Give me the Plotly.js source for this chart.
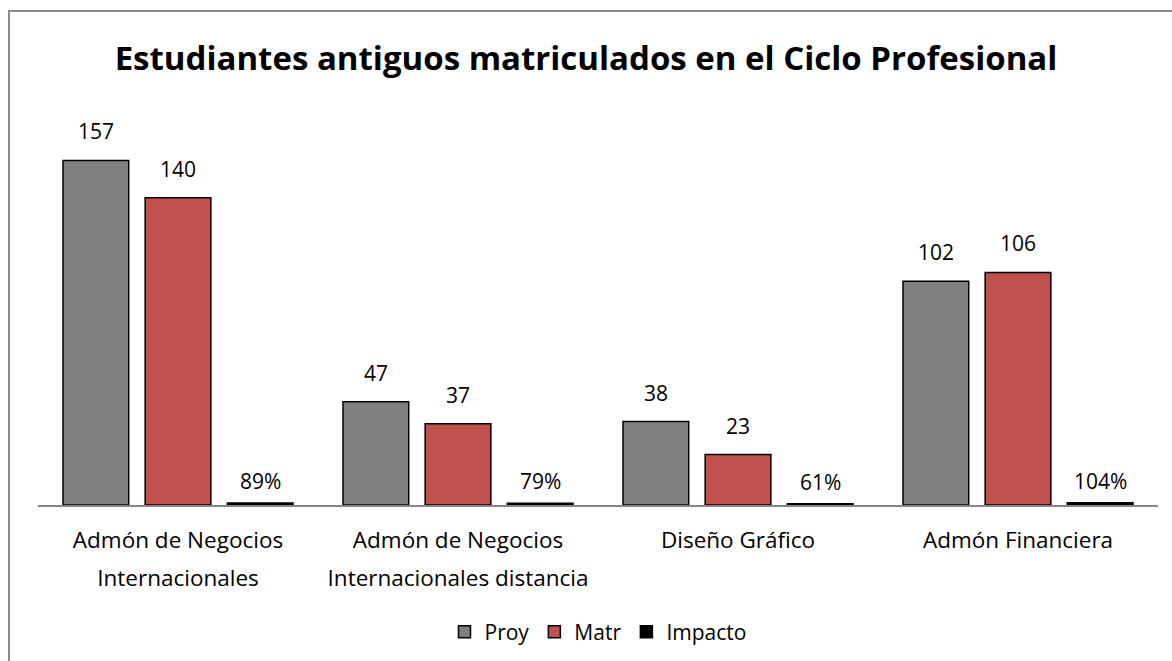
<!DOCTYPE html>
<html><head><meta charset="utf-8">
<script src="https://cdn.plot.ly/plotly-3.0.1.min.js"></script>
<style>
html,body{margin:0;padding:0;background:#fff;overflow:hidden}
#wrap{position:relative;width:1172px;height:661px}
#chart{position:absolute;left:0;top:0;width:1172px;height:661px}
#frame{position:absolute;left:8px;top:10px;width:1200px;height:700px;border:2px solid #8c8c8c;pointer-events:none}
</style></head>
<body><div id="wrap"><div id="chart"></div><div id="frame"></div></div>
<script>
const categories = ["Admón de Negocios\nInternacionales","Admón de Negocios\nInternacionales distancia","Diseño Gráfico","Admón Financiera"];
const proy = [157, 47, 38, 102];
const matr = [140, 37, 23, 106];
const impacto = [0.89, 0.79, 0.61, 1.04];
const seriesNames = ["Proy","Matr","Impacto"];
const colors = ["#808080","#c0504d","#000000"];

const FONT = "Open Sans, Calibri, sans-serif";
const bargap = 0.12, bargroupgap = 0.2;
const xs = categories.map((c,i)=>i);
const line1 = categories.map(c=>c.split('\n')[0]);
const line2 = categories.map(c=>c.split('\n')[1] || '');
const series = [proy, matr, impacto];
const traces = series.map((vals,j)=>({
  type:'bar', name:seriesNames[j], x:xs, y:vals,
  marker:{color:colors[j], line:{color:'#000', width:1.5}},
  hoverinfo:'skip'
}));
// carrier trace for the second line of the category labels (draws nothing)
traces.push({type:'scatter', mode:'none', x:xs, y:xs.map(()=>0), xaxis:'x2', yaxis:'y', showlegend:false, hoverinfo:'skip'});
const slot = (1-bargap)/3;
const annotations = [];
series.forEach((vals,j)=>{
  vals.forEach((v,i)=>{
    annotations.push({
      x: i + (j-1)*slot, y: v, xref:'x', yref:'y',
      text: j===2 ? Math.round(v*100)+'%' : String(v),
      showarrow:false, yshift: j===2 ? 22 : 29,
      font:{family:FONT, size:21, color:'#000'}
    });
  });
});
const tickfont = {family:FONT, size:22.5, color:'#000'};
const layout = {
  width:1172, height:661,
  margin:{l:38, r:14, t:110, b:156, autoexpand:false},
  paper_bgcolor:'#fff', plot_bgcolor:'#fff',
  title:{text:'<b>Estudiantes antiguos matriculados en el Ciclo Profesional</b>', font:{family:FONT, size:33, color:'#000'}, x:0.5, xanchor:'center', y:0.912, yanchor:'middle'},
  barmode:'group', bargap:bargap, bargroupgap:bargroupgap,
  xaxis:{tickmode:'array', tickvals:xs, ticktext:line1, range:[-0.5,3.5], automargin:false,
    showline:true, linecolor:'#868686', linewidth:1.5, ticks:'', showgrid:false, zeroline:false,
    tickfont:tickfont, ticklabelstandoff:14},
  xaxis2:{overlaying:'x', anchor:'y', side:'bottom', tickmode:'array', tickvals:xs, ticktext:line2, range:[-0.5,3.5], automargin:false,
    showline:false, ticks:'', showgrid:false, zeroline:false,
    tickfont:tickfont, ticklabelstandoff:57},
  yaxis:{range:[0,180], visible:false, showgrid:false, zeroline:false, automargin:false},
  showlegend:true,
  legend:{orientation:'h', x:0.5, xanchor:'center', y:-0.322, yanchor:'middle', font:{family:FONT, size:21, color:'#000'}, traceorder:'normal', itemwidth:30},
  annotations:annotations
};
Plotly.newPlot('chart', traces, layout, {displayModeBar:false, staticPlot:true});
</script></body></html>
